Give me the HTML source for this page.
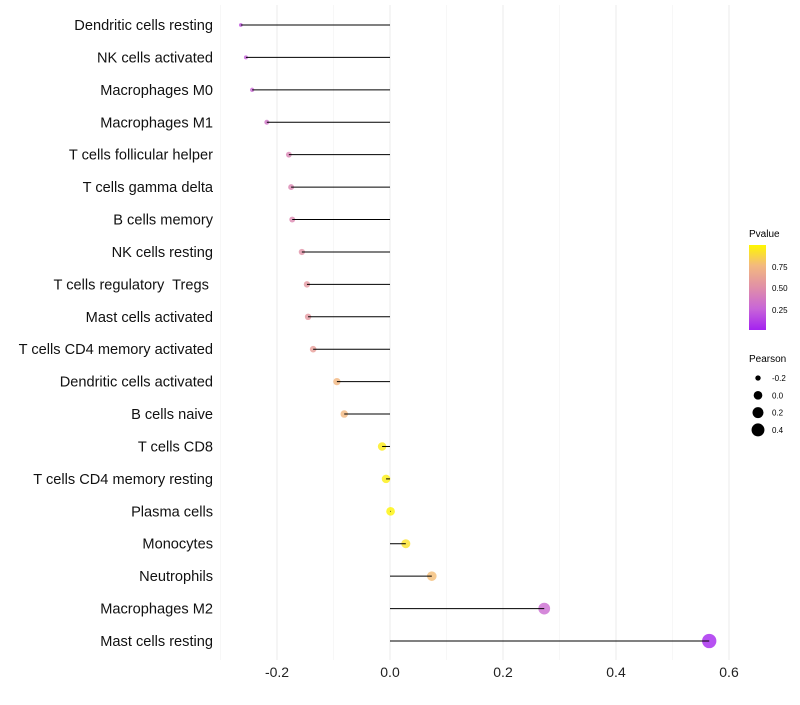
<!DOCTYPE html>
<html><head><meta charset="utf-8"><style>
body{margin:0;background:#fff;font-family:"Liberation Sans",sans-serif}
svg text{font-family:"Liberation Sans",sans-serif}
#ylabels text{white-space:pre}
</style></head><body>
<svg id="chart" width="800" height="700">
<g id="grid"></g>
<g id="points"></g>
<g id="marks"></g>
<g id="ylabels"></g>
<g id="xlabels"></g>
<g>
<text x="749" y="237" font-size="10" fill="#000">Pvalue</text>
<defs><linearGradient id="pg" x1="0" y1="1" x2="0" y2="0">
<stop offset="0" stop-color="#a422f0"/><stop offset="0.25" stop-color="#c865d8"/><stop offset="0.5" stop-color="#e08fa8"/><stop offset="0.76" stop-color="#f3b97e"/><stop offset="1" stop-color="#fff700"/></linearGradient></defs>
<rect x="749" y="245" width="17" height="85" fill="url(#pg)"/>
<text x="772" y="270" font-size="8">0.75</text>
<text x="772" y="291" font-size="8">0.50</text>
<text x="772" y="313" font-size="8">0.25</text>
</g>
<g id="sizeleg">
<text x="749" y="362" font-size="10">Pearson</text>
</g>
</svg>
<script>
const categories=["Dendritic cells resting","NK cells activated","Macrophages M0","Macrophages M1","T cells follicular helper","T cells gamma delta","B cells memory","NK cells resting","T cells regulatory  Tregs ","Mast cells activated","T cells CD4 memory activated","Dendritic cells activated","B cells naive","T cells CD8","T cells CD4 memory resting","Plasma cells","Monocytes","Neutrophils","Macrophages M2","Mast cells resting"];
const pearson=[-0.264,-0.255,-0.244,-0.218,-0.179,-0.175,-0.173,-0.156,-0.147,-0.145,-0.136,-0.094,-0.081,-0.014,-0.007,0.001,0.028,0.074,0.273,0.565];
const pvalue=[0.2,0.25,0.28,0.35,0.45,0.46,0.47,0.52,0.56,0.56,0.6,0.75,0.76,0.96,0.97,0.99,0.92,0.78,0.3,0.03];
const xTicks=[-0.2,0,0.2,0.4,0.6];
const xTickLabels=["-0.2","0.0","0.2","0.4","0.6"];
const xMinor=[-0.3,-0.1,0.1,0.3,0.5];
const sizeLegend=[-0.2,0,0.2,0.4];
const sizeLegendLabels=["-0.2","0.0","0.2","0.4"];
const NS="http://www.w3.org/2000/svg";
const xs=v=>390+v*565;
const ys=i=>25+i*(616/19);
const pmin=0.02,pmax=1.0;
const stops=[[0,[164,34,240]],[0.25,[200,101,216]],[0.5,[224,143,168]],[0.76,[243,185,126]],[1,[255,247,0]]];
function col(p){let t=Math.max(0,Math.min(1,(p-pmin)/(pmax-pmin)));
for(let k=1;k<stops.length;k++){if(t<=stops[k][0]){const a=stops[k-1],b=stops[k];const u=(t-a[0])/(b[0]-a[0]);return `rgb(${a[1].map((c,j)=>Math.round(c+(b[1][j]-c)*u)).join(",")})`;}}
return "rgb(255,247,0)";}
const vmin=-0.3,vmax=0.6;
function rad(v){const t=Math.max(0,(v-vmin)/(vmax-vmin));return Math.sqrt(1.2*1.2+t*(7.3*7.3-1.2*1.2));}
function mk(tag,attrs,parent){const e=document.createElementNS(NS,tag);for(const k in attrs)e.setAttribute(k,attrs[k]);document.getElementById(parent).appendChild(e);return e;}
xMinor.forEach(v=>{const l=mk("line",{x1:xs(v),x2:xs(v),y1:5,y2:660,stroke:"#f2f2f2","stroke-width":0.6},"grid");

});
xTicks.forEach((v,i)=>{const l=mk("line",{x1:xs(v),x2:xs(v),y1:5,y2:660,stroke:"#ebebeb","stroke-width":1},"grid");


const t=mk("text",{x:xs(v),y:677,"font-size":14,"text-anchor":"middle",fill:"#222"},"xlabels");t.textContent=xTickLabels[i];

});
categories.forEach((c,i)=>{const y=ys(i);
const p=mk("circle",{cx:xs(pearson[i]),cy:y,r:rad(pearson[i]),fill:col(pvalue[i]),"fill-opacity":0.8},"points");


const l=mk("line",{x1:xs(0),x2:xs(pearson[i]),y1:y,y2:y,stroke:"#000","stroke-width":1},"marks");


const t=mk("text",{x:213,y:y+5,"font-size":14.6,"text-anchor":"end",fill:"#111"},"ylabels");t.textContent=c;

});
sizeLegend.forEach((v,i)=>{const y=378+i*17.3;
const c=mk("circle",{cx:758,cy:y,r:rad(v),fill:"#000"},"sizeleg");


const t=mk("text",{x:772,y:y+3,"font-size":8},"sizeleg");t.textContent=sizeLegendLabels[i];

});
</script>
</body></html>
